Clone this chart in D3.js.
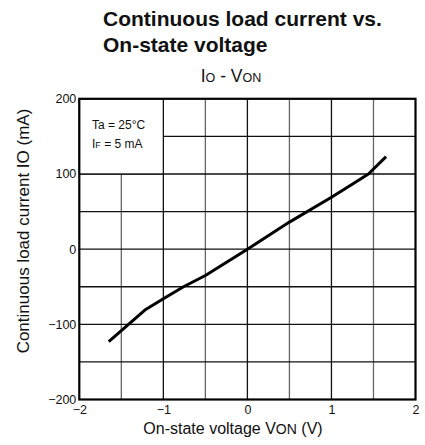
<!DOCTYPE html>
<html>
<head>
<meta charset="utf-8">
<script src="https://cdn.jsdelivr.net/npm/d3@7"></script>
<style>
  body { margin: 0; background: #fff; }
  svg text { font-family: "Liberation Sans", Arial, sans-serif; fill: #111; }
</style>
</head>
<body>
<svg id="chart" width="425" height="445"></svg>
<script>
// curve
var vOn = [-1.65, -1.22, -1.0, -0.76, -0.5, 0, 0.5, 1.0, 1.2, 1.44, 1.65];
var iO  = [-123, -81, -66, -50, -35, 0, 36, 69, 83, 100, 123];
var xTicks = [-2, -1, 0, 1, 2];
var yTicks = [-200, -100, 0, 100, 200];
var xGrid = [-1.5, -1, -0.5, 0, 0.5, 1, 1.5];
var yGrid = [-150, -100, -50, 0, 50, 100, 150];

var svg = d3.select("#chart");
var x = d3.scaleLinear().domain([-2, 2]).range([79.3, 415.5]);
var y = d3.scaleLinear().domain([-200, 200]).range([399.5, 98.8]);

// title
svg.append("text").attr("x", 103).attr("y", 26)
  .style("font-size", "21px").style("font-weight", "bold")
  .text("Continuous load current vs.");
svg.append("text").attr("x", 103).attr("y", 52)
  .style("font-size", "21px").style("font-weight", "bold")
  .text("On-state voltage");
var sub = svg.append("text").attr("x", 231).attr("y", 82)
  .attr("text-anchor", "middle").style("font-size", "17.5px");
sub.append("tspan").text("I");
sub.append("tspan").style("font-size", "12.5px").text("O");
sub.append("tspan").text(" - V");
sub.append("tspan").style("font-size", "12.5px").text("ON");

var g = svg.append("g");

// grid
g.selectAll(".vg").data(xGrid).enter().append("line")
  .attr("x1", function(d) { return x(d); }).attr("x2", function(d) { return x(d); })
  .attr("y1", y(200)).attr("y2", y(-200))
  .attr("stroke", function(d) { return d % 1 === 0 ? "#111" : "#666"; })
  .attr("stroke-width", 1.3);
g.selectAll(".hg").data(yGrid).enter().append("line")
  .attr("y1", function(d) { return y(d); }).attr("y2", function(d) { return y(d); })
  .attr("x1", x(-2)).attr("x2", x(2))
  .attr("stroke", "#111").attr("stroke-width", 1.3);

// condition box
g.append("rect").attr("x", x(-2)).attr("y", y(200))
  .attr("width", x(-1) - x(-2)).attr("height", y(100) - y(200))
  .attr("fill", "#fff").attr("stroke", "#111").attr("stroke-width", 1.3);
g.append("text").attr("x", 92).attr("y", 129).style("font-size", "12px")
  .text("Ta = 25\u00b0C");
var cf = g.append("text").attr("x", 92).attr("y", 148).style("font-size", "12px");
cf.append("tspan").text("I");
cf.append("tspan").style("font-size", "9px").text("F");
cf.append("tspan").text(" = 5 mA");

// curve
var pts = vOn.map(function(v, i) { return [v, iO[i]]; });
var line = d3.line().x(function(d) { return x(d[0]); }).y(function(d) { return y(d[1]); });
g.append("path").datum(pts).attr("d", line)
  .attr("fill", "none").attr("stroke", "#000").attr("stroke-width", 3)
  .attr("stroke-linejoin", "round");

// frame
g.append("rect").attr("x", x(-2)).attr("y", y(200))
  .attr("width", x(2) - x(-2)).attr("height", y(-200) - y(200))
  .attr("fill", "none").attr("stroke", "#000").attr("stroke-width", 2.2);

// axes (labels only)
var xa = svg.append("g").attr("transform", "translate(0," + y(-200) + ")")
  .call(d3.axisBottom(x).tickValues(xTicks).tickFormat(d3.format("d")).tickSize(0).tickPadding(6));
var ya = svg.append("g").attr("transform", "translate(" + x(-2) + ",0)")
  .call(d3.axisLeft(y).tickValues(yTicks).tickFormat(d3.format("d")).tickSize(0).tickPadding(3));
[xa, ya].forEach(function(a) {
  a.select(".domain").remove();
  a.selectAll("text").style("font-size", "12.5px").attr("fill", "#222")
    .style("font-family", "'Liberation Sans', Arial, sans-serif");
});

// axis titles
var xl = svg.append("text").attr("x", 233).attr("y", 434)
  .attr("text-anchor", "middle").style("font-size", "16px");
xl.append("tspan").text("On-state voltage V");
xl.append("tspan").style("font-size", "14px").text("ON");
xl.append("tspan").text(" (V)");

var yl = svg.append("text").attr("transform", "translate(29,231) rotate(-90)")
  .attr("text-anchor", "middle").style("font-size", "17px");
yl.append("tspan").text("Continuous load current IO (mA)");
</script>
</body>
</html>
